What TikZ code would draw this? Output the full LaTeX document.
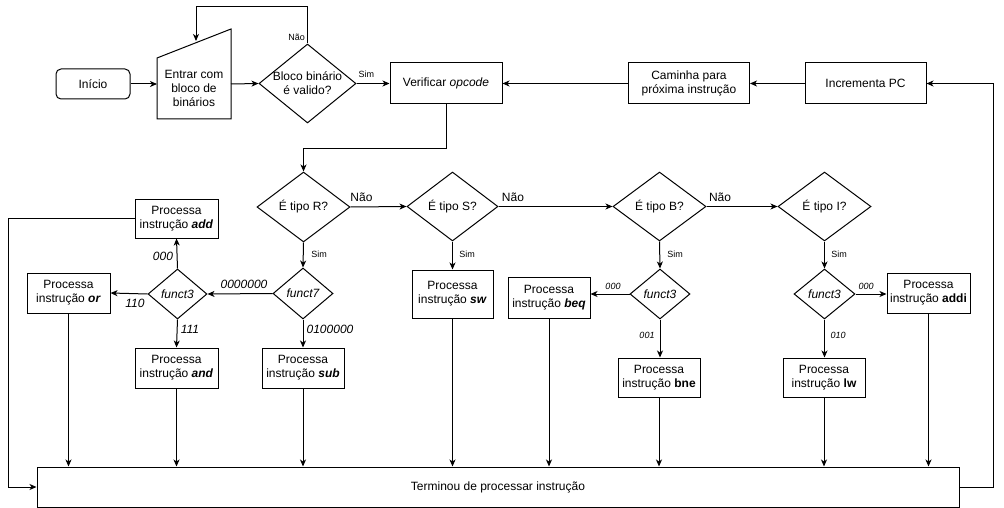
\documentclass[tikz,border=0pt]{standalone}
\usepackage{fontspec}
\setmainfont{Liberation Sans}
\usetikzlibrary{arrows.meta,shapes.geometric}
\begin{document}
\begin{tikzpicture}[x=1pt,y=-1pt,
  font=\fontsize{12}{14}\selectfont,
  every node/.style={inner sep=0pt, align=center},
  box/.style={draw, line width=1pt, rectangle, minimum width=82pt, minimum height=40pt},
  dia/.style={draw, line width=1pt, diamond},
  arr/.style={line width=1pt, -{Stealth[length=7pt,width=6pt,inset=2pt]}},
  ln/.style={line width=1pt},
  sml/.style={font=\fontsize{9}{11}\selectfont},
  lbl/.style={font=\fontsize{12}{14}\selectfont\itshape},
  lbls/.style={font=\fontsize{9}{11}\selectfont\itshape}
]
\useasboundingbox (0,0) rectangle (1004,508);

% top row
\node[box, rounded corners=5pt, minimum width=74pt, minimum height=30pt] (inicio) at (93,84) {Início};
\coordinate (eSW) at (157,119);
\coordinate (eSE) at (231,119);
\coordinate (eNE) at (231,29);
\coordinate (eNW) at (157,58);
\draw[ln] (eSW) -- (eSE) -- (eNE) -- (eNW) -- cycle;
\node (entrar) at (194,88) {Entrar com\\bloco de\\binários};
\coordinate (eW) at (157,84);
\coordinate (eE) at (231,84);
\coordinate (eTop) at (196,41);

\node[dia, minimum width=97pt, minimum height=79pt, label={[align=center]center:Bloco binário\\é valido?}] (valid) at (307.5,83.5) {};
\node[box, minimum width=112pt, minimum height=41pt] (verif) at (446,83.5) {Verificar \textit{opcode}};
\node[box, minimum width=121pt, minimum height=41pt] (cam) at (689,83.5) {Caminha para\\próxima instrução};
\node[box, minimum width=121pt, minimum height=41pt] (incr) at (865.5,83.5) {Incrementa PC};

% type diamonds
\node[dia, minimum width=93pt, minimum height=70pt, label=center:É tipo R?] (R) at (303.5,207) {};
\node[dia, minimum width=91pt, minimum height=69pt, label=center:É tipo S?] (S) at (452.5,206.5) {};
\node[dia, minimum width=93pt, minimum height=69pt, label=center:É tipo B?] (B) at (659.5,206.5) {};
\node[dia, minimum width=93pt, minimum height=69pt, label=center:É tipo I?] (I) at (824.5,206.5) {};

% funct diamonds
\node[dia, minimum width=60pt, minimum height=51pt, label={[font=\fontsize{12}{14}\selectfont\itshape]center:funct7}] (f7) at (303,293.5) {};
\node[dia, minimum width=59pt, minimum height=50pt, label={[font=\fontsize{12}{14}\selectfont\itshape]center:funct3}] (f3R) at (177.5,294) {};
\node[dia, minimum width=60pt, minimum height=50pt, label={[font=\fontsize{12}{14}\selectfont\itshape]center:funct3}] (f3B) at (660,294) {};
\node[dia, minimum width=61pt, minimum height=50pt, label={[font=\fontsize{12}{14}\selectfont\itshape]center:funct3}] (f3I) at (824.5,294) {};

% instruction boxes
\node[box, minimum width=83pt, minimum height=39pt] (add) at (176.5,218.5) {Processa\\instrução \textbf{\textit{add}}};
\node[box, minimum width=83pt] (or) at (68.5,293) {Processa\\instrução \textbf{\textit{or}}};
\node[box, minimum width=83pt] (and) at (176.5,368) {Processa\\instrução \textbf{\textit{and}}};
\node[box, minimum width=82pt] (sub) at (303,368) {Processa\\instrução \textbf{\textit{sub}}};
\node[box, minimum width=81pt, minimum height=48pt] (sw) at (452.5,294) {Processa\\instrução \textbf{\textit{sw}}};
\node[box, minimum width=82pt, minimum height=41pt] (beq) at (549,297.5) {Processa\\instrução \textbf{\textit{beq}}};
\node[box, minimum height=39pt] (bne) at (659,377.5) {Processa\\instrução \textbf{bne}};
\node[box, minimum height=39pt] (lw) at (824,377.5) {Processa\\instrução \textbf{lw}};
\node[box, minimum width=83pt] (addi) at (928.5,293) {Processa\\instrução \textbf{addi}};

\node[box, minimum width=922pt, minimum height=40pt] (term) at (498,487) {Terminou de processar instrução};

% top connectors
\draw[arr] (inicio.east) -- (eW);
\draw[arr] (eE) -- (valid.west);
\draw[arr] (valid.east) -- node[sml, above=5pt, pos=0.3] (simv) {Sim} (verif.west);
\coordinate (loopA) at (307.5,7);
\coordinate (loopB) at (196,7);
\draw[arr] (valid.north) -- (loopA) -- (loopB) -- (eTop);
\node[sml, anchor=east] (naov) at (305,37) {Não};
\draw[arr] (incr.west) -- (cam.east);
\draw[arr] (cam.west) -- (verif.east);
\coordinate (vA) at (446,149);
\coordinate (vB) at (303.5,149);
\draw[arr] (verif.south) -- (vA) -- (vB) -- (R.north);

% type chain
\draw[arr] (R.east) -- (S.west);
\node (naoR) at (361.5,197) {Não};
\draw[arr] (S.east) -- (B.west);
\node (naoS) at (513,197.5) {Não};
\draw[arr] (B.east) -- (I.west);
\node (naoB) at (720,197.5) {Não};

% R branch
\draw[arr] (R.south) -- (f7.north);
\node[sml] (simR) at (319,254) {Sim};
\draw[arr] (f7.west) -- (f3R.east);
\node[lbl] (l7a) at (244,284) {0000000};
\draw[arr] (f7.south) -- (sub.north);
\node[lbl] (l7b) at (330,329) {0100000};
\draw[arr] (f3R.north) -- (add.south);
\node[lbl] (l3a) at (163,256) {000};
\draw[arr] (f3R.west) -- (or.east);
\node[lbl] (l3b) at (135,303) {110};
\draw[arr] (f3R.south) -- (and.north);
\node[lbl] (l3c) at (190,329) {111};

% S branch
\draw[arr] (S.south) -- (sw.north);
\node[sml] (simS) at (467,254) {Sim};

% B branch
\draw[arr] (B.south) -- (f3B.north);
\node[sml] (simB) at (675,254) {Sim};
\draw[arr] (f3B.west) -- (beq.east |- f3B.west);
\node[lbls] (lba) at (613,286) {000};
\draw[arr] (f3B.south) -- (bne.north -| f3B.south);
\node[lbls] (lbb) at (647,335) {001};

% I branch
\draw[arr] (I.south) -- (f3I.north);
\node[sml] (simI) at (839,254) {Sim};
\draw[arr] (f3I.east) -- (addi.west |- f3I.east);
\node[lbls] (lia) at (866,286) {000};
\draw[arr] (f3I.south) -- (lw.north -| f3I.south);
\node[lbls] (lib) at (838,335) {010};

% down to terminal
\draw[arr] (or.south) -- (or.south |- term.north);
\draw[arr] (and.south) -- (and.south |- term.north);
\draw[arr] (sub.south) -- (sub.south |- term.north);
\draw[arr] (sw.south) -- (sw.south |- term.north);
\draw[arr] (beq.south) -- (beq.south |- term.north);
\draw[arr] (bne.south) -- (bne.south |- term.north);
\draw[arr] (lw.south) -- (lw.south |- term.north);
\draw[arr] (addi.south) -- (addi.south |- term.north);

\coordinate (aL) at (8,218.5);
\coordinate (aLb) at (8,487);
\draw[arr] (add.west) -- (aL) -- (aLb) -- (term.west);
\coordinate (tR) at (993,487);
\coordinate (tRt) at (993,83.5);
\draw[arr] (term.east) -- (tR) -- (tRt) -- (incr.east);
\end{tikzpicture}
\end{document}
